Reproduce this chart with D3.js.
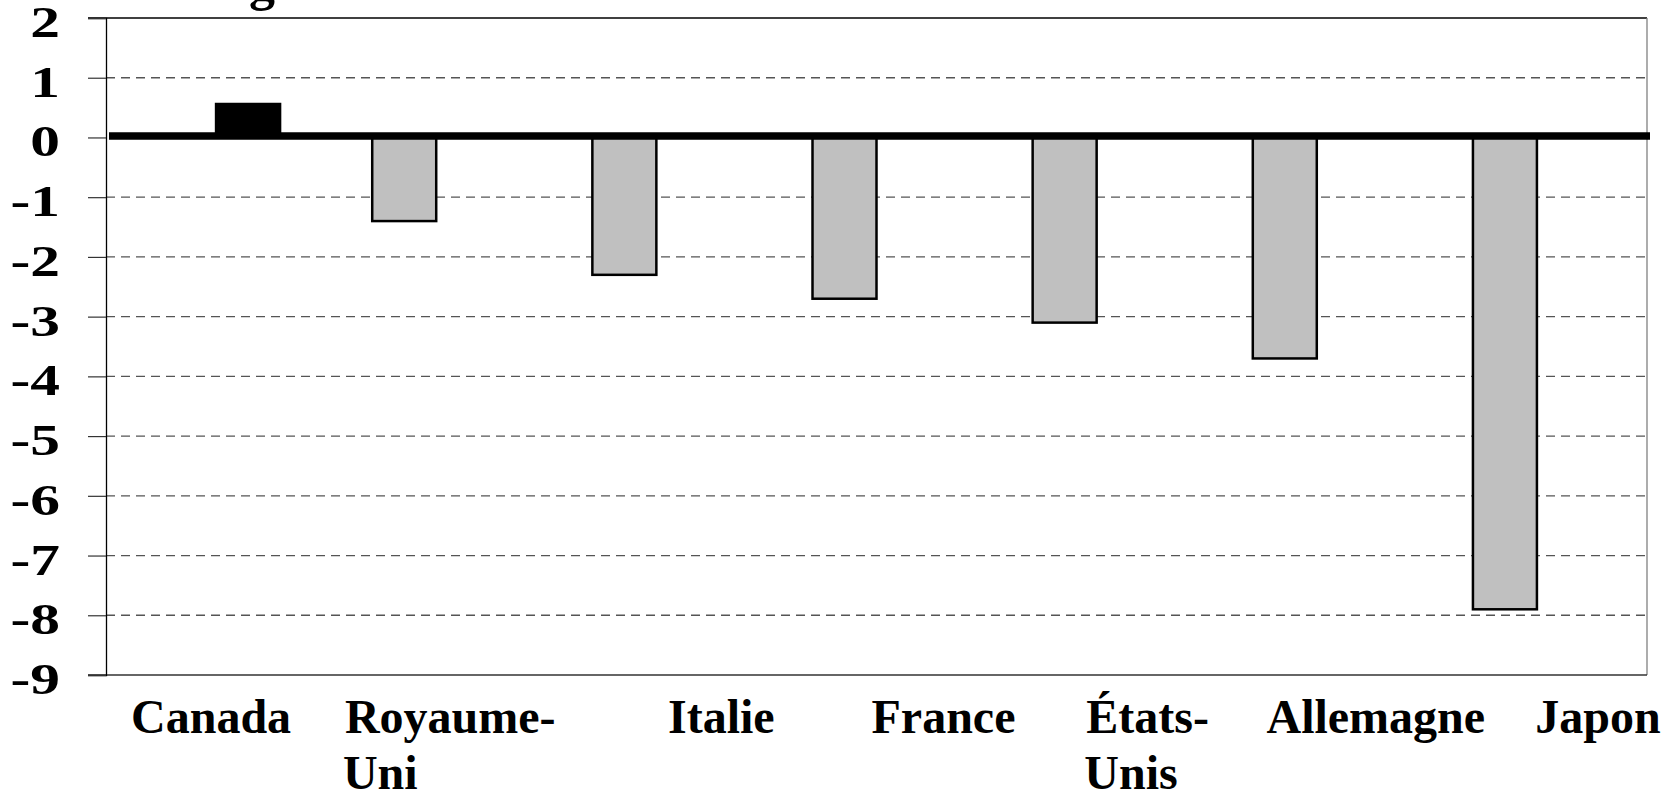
<!DOCTYPE html>
<html>
<head>
<meta charset="utf-8">
<script src="https://cdn.jsdelivr.net/npm/d3@7"></script>
<style>
  html, body { margin: 0; padding: 0; background: #fff; }
  svg { display: block; }
  text { font-family: "Liberation Serif", "Times New Roman", serif; font-weight: bold; fill: #000; }
</style>
</head>
<body>
<svg id="chart" width="1672" height="793"></svg>
<script>
// Categories (G7 countries) and their wrapped label lines
const categories = ["Canada", "Royaume-Uni", "Italie", "France", "États-Unis", "Allemagne", "Japon"];
const labelLines = [["Canada"], ["Royaume-", "Uni"], ["Italie"], ["France"], ["États-", "Unis"], ["Allemagne"], ["Japon"]];

// Two series: Canada highlighted in black, the other countries in grey
const seriesKeys = ["autres", "canada"];
const canadaValues = [0.56, null, null, null, null, null, null];
const otherValues = [null, -1.4, -2.3, -2.7, -3.1, -3.7, -7.9];

// Value axis ticks
const yTicks = [2, 1, 0, -1, -2, -3, -4, -5, -6, -7, -8, -9];

// Layout
const plot = { left: 106, right: 1647, top: 18, bottom: 675 };
const labelDx = [-5, 14, 65, 67, 51, 59, 61];   // horizontal nudge of each category label
const catFont = 48, catLine = 56, catBaseline = 733;
const tickFont = 44, tickStretch = 1.35, tickRight = 60;

const svg = d3.select("#chart");

const x0 = d3.scaleBand().domain(categories).range([plot.left, plot.right]).padding(0);
const x1 = d3.scaleBand().domain(seriesKeys).range([0, x0.bandwidth()]).paddingInner(0).paddingOuter(0.72);
const y = d3.scaleLinear().domain([-9, 2]).range([plot.bottom, plot.top]);

// Dashed horizontal gridlines
svg.append("g")
  .selectAll("line")
  .data(yTicks.filter(t => t !== 2 && t !== 0 && t !== -9))
  .join("line")
  .attr("x1", plot.left).attr("x2", plot.right)
  .attr("y1", d => y(d)).attr("y2", d => y(d))
  .attr("stroke", "#555").attr("stroke-width", 1.3)
  .attr("stroke-dasharray", "9,6");

// Plot area frame (top, right, bottom)
const frame = svg.append("g");
frame.append("line").attr("x1", plot.left - 18).attr("x2", plot.right).attr("y1", plot.top).attr("y2", plot.top)
  .attr("stroke", "#000").attr("stroke-width", 1.3);
frame.append("line").attr("x1", plot.right).attr("x2", plot.right).attr("y1", plot.top).attr("y2", plot.bottom)
  .attr("stroke", "#808080").attr("stroke-width", 1.3);
frame.append("line").attr("x1", plot.left - 18).attr("x2", plot.right).attr("y1", plot.bottom).attr("y2", plot.bottom)
  .attr("stroke", "#333").attr("stroke-width", 1.3);

// Bars
const rows = categories.map((c, i) => ({ cat: c, canada: canadaValues[i], autres: otherValues[i] }));
const barData = [];
rows.forEach(r => seriesKeys.forEach(k => { if (r[k] != null) barData.push({ cat: r.cat, key: k, value: r[k] }); }));

svg.append("g")
  .selectAll("rect")
  .data(barData)
  .join("rect")
  .attr("x", d => x0(d.cat) + x1(d.key))
  .attr("width", x1.bandwidth())
  .attr("y", d => Math.min(y(d.value), y(0)))
  .attr("height", d => Math.abs(y(d.value) - y(0)))
  .attr("fill", d => d.key === "canada" ? "#000" : "#c0c0c0")
  .attr("stroke", "#000")
  .attr("stroke-width", 2.5);

// Value axis: line, outward ticks, wide bold labels
const yAxis = svg.append("g").attr("transform", `translate(${plot.left},0)`)
  .call(d3.axisLeft(y).tickValues(yTicks).tickSize(18).tickFormat(""));
yAxis.select(".domain").attr("stroke", "#000").attr("stroke-width", 1.3);
yAxis.selectAll(".tick line").attr("stroke", "#333").attr("stroke-width", 1.2);

svg.append("g")
  .selectAll("text")
  .data(yTicks)
  .join("text")
  .attr("transform", d => `translate(${tickRight},${y(d) + 19}) scale(${tickStretch},1)`)
  .attr("text-anchor", "end")
  .attr("font-size", tickFont)
  .text(d => d);

// Thick zero line across the plot
svg.append("line")
  .attr("x1", plot.left + 3).attr("x2", plot.right + 3)
  .attr("y1", y(0) - 1.5).attr("y2", y(0) - 1.5)
  .attr("stroke", "#000").attr("stroke-width", 7.5);

// Category labels, wrapped lines aligned on their left edge
const catG = svg.append("g");
categories.forEach((c, i) => {
  const lines = labelLines[i];
  const probe = catG.append("text").attr("font-size", catFont).text(lines[0]);
  const w = probe.node().getComputedTextLength();
  probe.remove();
  const cx = x0(c) + x0.bandwidth() / 2 + labelDx[i];
  const startX = cx - w / 2;
  lines.forEach((ln, j) => {
    catG.append("text")
      .attr("x", startX - (j > 0 ? 2 : 0))
      .attr("y", catBaseline + j * catLine)
      .attr("text-anchor", "start")
      .attr("font-size", catFont)
      .text(ln);
  });
});

// Title, running above the frame
svg.append("text")
  .attr("x", 262).attr("y", 0)
  .attr("text-anchor", "middle")
  .attr("font-size", 52)
  .text("g");
</script>
</body>
</html>
